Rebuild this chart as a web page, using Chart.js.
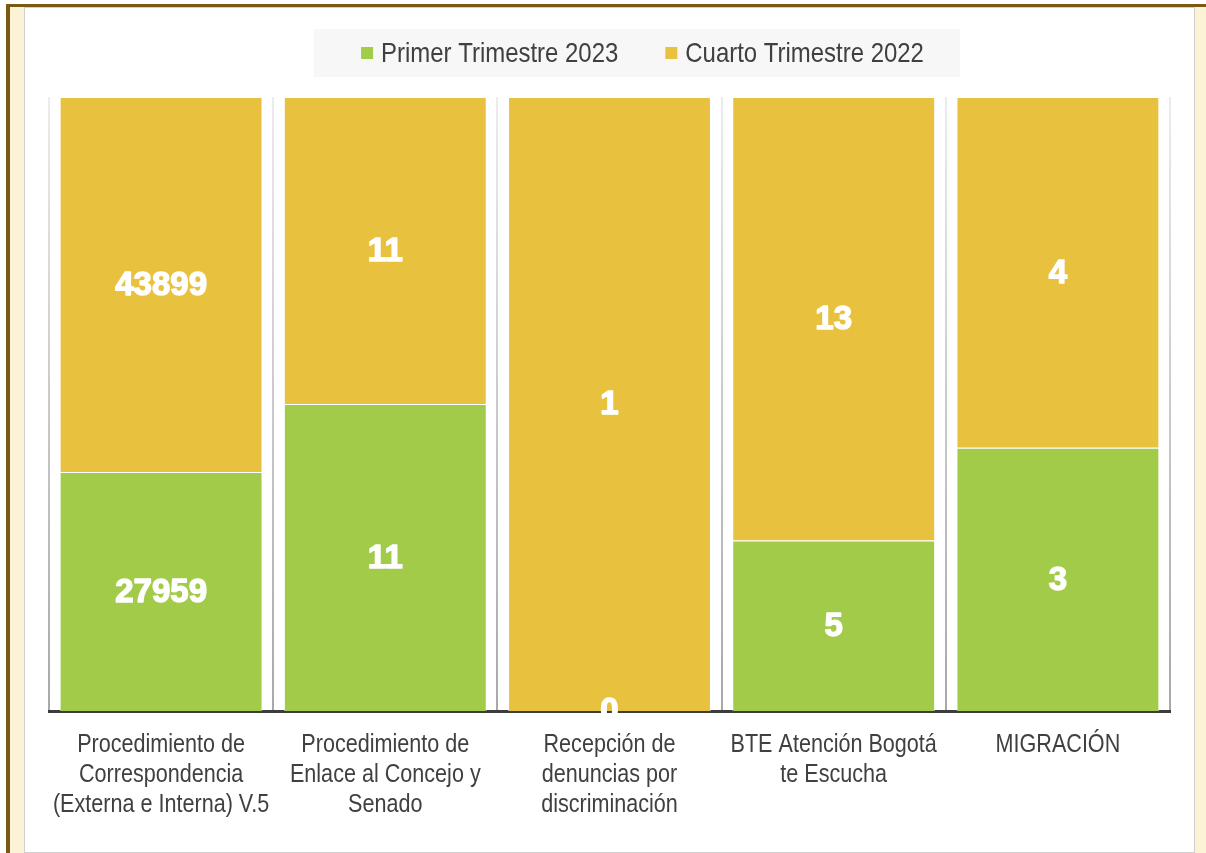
<!DOCTYPE html>
<html><head><meta charset="utf-8">
<script src="https://cdn.jsdelivr.net/npm/chart.js@4.4.1/dist/chart.umd.min.js"></script>
<style>
html,body{margin:0;padding:0;width:1206px;height:853px;overflow:hidden;background:#fff;}
#frame{position:absolute;left:6px;top:4px;width:1196px;height:849px;border-top:3px solid #7a5a12;border-left:4px solid #7a5a12;background:#fcf2d6;}
#panel{position:absolute;left:24px;top:7px;width:1169px;height:844px;border:1px solid #d0d0d0;background:#fff;}
#wrap{position:absolute;left:0;top:0;width:1206px;height:853px;}
</style></head><body>
<div id="frame"></div><div id="panel"></div>
<div id="wrap"><canvas id="c" width="1206" height="853"></canvas></div>
<script>
const categories = [
  ["Procedimiento de","Correspondencia","(Externa e Interna) V.5"],
  ["Procedimiento de","Enlace al Concejo y","Senado"],
  ["Recepción de","denuncias por","discriminación"],
  ["BTE Atención Bogotá","te Escucha"],
  ["MIGRACIÓN"]
];
const seriesNames = ["Primer Trimestre 2023", "Cuarto Trimestre 2022"];
const primer2023 = [27959, 11, 0, 5, 3];
const cuarto2022 = [43899, 11, 1, 13, 4];
const seriesColors = ["#a1cb48", "#e8c23f"];

const totals = primer2023.map((v,i)=>v+cuarto2022[i]);
const share = arr => arr.map((v,i)=> totals[i] ? v/totals[i]*100 : 0);

const SANS = '"Liberation Sans", Arial, sans-serif';

// draw text horizontally condensed (Arial Narrow look)
function narrowText(ctx, text, x, y, sx, align){
  ctx.save();
  ctx.translate(x, y);
  ctx.scale(sx, 1);
  ctx.textAlign = align;
  ctx.fillText(text, 0, 0);
  ctx.restore();
}

const valueLabels = {
  id:'valueLabels',
  afterDatasetsDraw(chart){
    const ctx = chart.ctx; ctx.save();
    ctx.font = 'bold 33px ' + SANS;
    ctx.fillStyle = '#ffffff'; ctx.strokeStyle = '#ffffff'; ctx.lineWidth = 1.4; ctx.lineJoin = 'round';
    ctx.textAlign = 'center'; ctx.textBaseline = 'middle';
    chart.data.datasets.forEach((ds,di)=>{
      const meta = chart.getDatasetMeta(di);
      meta.data.forEach((el,i)=>{
        const t = String(ds.rawValues[i]), y = (el.y+el.base)/2 + 1;
        ctx.strokeText(t, el.x, y);
        ctx.fillText(t, el.x, y);
      });
    });
    ctx.restore();
  }
};

const categoryLabels = {
  id:'categoryLabels',
  afterDraw(chart){
    const ctx = chart.ctx, sc = chart.scales.x; ctx.save();
    ctx.font = '26px ' + SANS;
    ctx.fillStyle = '#404040'; ctx.textBaseline = 'middle';
    chart.data.labels.forEach((lines,i)=>{
      const x = sc.getPixelForTick(i);
      [].concat(lines).forEach((ln,k)=>{
        narrowText(ctx, ln, x, chart.chartArea.bottom + 34 + k*30, 0.83, 'center');
      });
    });
    ctx.restore();
  }
};

const customLegend = {
  id:'customLegend',
  afterDraw(chart){
    const ctx = chart.ctx; ctx.save();
    ctx.font = '28px ' + SANS;
    const sx = 0.855;
    const items = chart.data.datasets.map(ds=>({label:ds.label, color:ds.backgroundColor, w:ctx.measureText(ds.label).width*sx}));
    const box = 12, gapText = 8, gapItem = 47;
    let total = 0;
    items.forEach((it,i)=>{ total += box + gapText + it.w + (i ? gapItem : 0); });
    const cx = 642.5, cy = 53;
    let x = cx - total/2;
    ctx.fillStyle = '#f7f7f7';
    ctx.fillRect(x - 47, 29, total + 47 + 36, 48);
    ctx.textBaseline = 'middle';
    items.forEach((it,i)=>{
      if (i) x += gapItem;
      ctx.fillStyle = it.color;
      ctx.fillRect(x, cy - box/2, box, box);
      x += box + gapText;
      ctx.fillStyle = '#404040';
      narrowText(ctx, it.label, x, cy + 1, sx, 'left');
      x += it.w;
    });
    ctx.restore();
  }
};

new Chart(document.getElementById('c'), {
  type: 'bar',
  data: {
    labels: categories,
    datasets: [
      {label: seriesNames[0], data: share(primer2023), rawValues: primer2023, backgroundColor: seriesColors[0], borderColor: 'rgba(255,255,255,0.55)', borderWidth: 1},
      {label: seriesNames[1], data: share(cuarto2022), rawValues: cuarto2022, backgroundColor: seriesColors[1], borderColor: 'rgba(255,255,255,0.55)', borderWidth: 1}
    ]
  },
  options: {
    responsive: false,
    animation: false,
    devicePixelRatio: 1,
    layout: {padding: {left: 49, right: 36, top: 97, bottom: 142}},
    categoryPercentage: 1,
    barPercentage: 0.905,
    plugins: {legend: {display: false}, tooltip: {enabled: false}, title: {display: false}},
    scales: {
      x: {
        stacked: true,
        z: 1,
        grid: {
          offset: true, drawTicks: false, lineWidth: 2,
          color: (c)=>{ const ch = c.chart, a = ch.chartArea; if (!a) return '#dddddd';
            const g = ch.ctx.createLinearGradient(0, a.top, 0, a.bottom);
            g.addColorStop(0, '#ececec'); g.addColorStop(1, '#a8a8a8'); return g; }
        },
        border: {display: true, color: '#3c3c3c', width: 3},
        ticks: {display: false}
      },
      y: {stacked: true, display: false, min: 0, max: 100}
    }
  },
  plugins: [valueLabels, categoryLabels, customLegend]
});
</script>
</body></html>
